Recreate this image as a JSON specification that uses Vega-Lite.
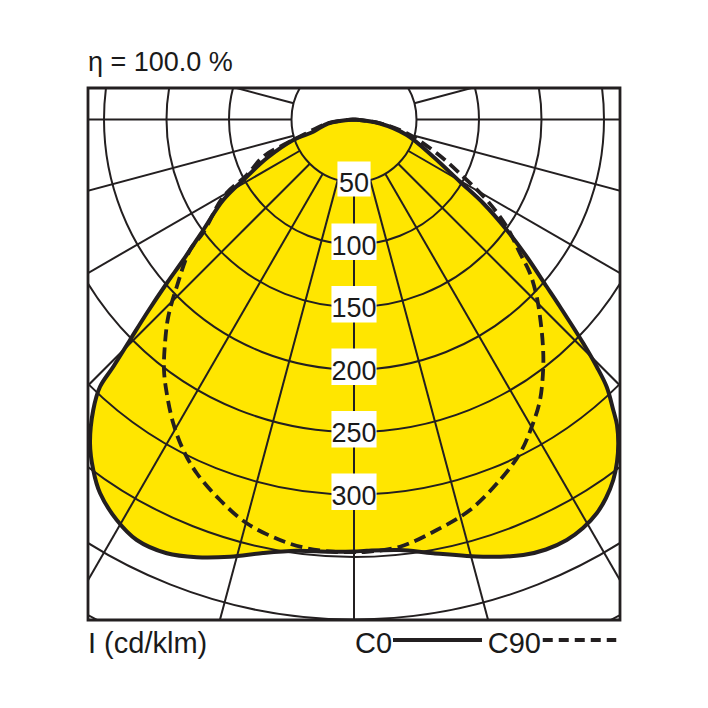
{
  "$schema": "https://vega.github.io/schema/vega-lite/v6.json",
  "width": 532,
  "height": 532,
  "autosize": {"type": "none"},
  "padding": {"left": 88, "top": 88, "right": 88, "bottom": 88},
  "background": "white",
  "view": {"stroke": "#231f20", "strokeWidth": 2.8},
  "datasets": {
    "circles": [
      {"r": 50, "x": 0, "y": 0}, {"r": 100, "x": 0, "y": 0}, {"r": 150, "x": 0, "y": 0},
      {"r": 200, "x": 0, "y": 0}, {"r": 250, "x": 0, "y": 0}, {"r": 300, "x": 0, "y": 0},
      {"r": 350, "x": 0, "y": 0}, {"r": 400, "x": 0, "y": 0}, {"r": 450, "x": 0, "y": 0}
    ],
    "rays": [
      {"a": 0, "x": 0, "y": -50, "x2": 0, "y2": -500},
      {"a": 15, "x": 12.94, "y": -48.3, "x2": 129.41, "y2": -482.96},
      {"a": 30, "x": 25, "y": -43.3, "x2": 250, "y2": -433.01},
      {"a": 45, "x": 35.36, "y": -35.36, "x2": 353.55, "y2": -353.55},
      {"a": 60, "x": 43.3, "y": -25, "x2": 433.01, "y2": -250},
      {"a": 75, "x": 48.3, "y": -12.94, "x2": 482.96, "y2": -129.41},
      {"a": 90, "x": 50, "y": 0, "x2": 500, "y2": 0},
      {"a": 105, "x": 48.3, "y": 12.94, "x2": 482.96, "y2": 129.41},
      {"a": 120, "x": 43.3, "y": 25, "x2": 433.01, "y2": 250},
      {"a": -15, "x": -12.94, "y": -48.3, "x2": -129.41, "y2": -482.96},
      {"a": -30, "x": -25, "y": -43.3, "x2": -250, "y2": -433.01},
      {"a": -45, "x": -35.36, "y": -35.36, "x2": -353.55, "y2": -353.55},
      {"a": -60, "x": -43.3, "y": -25, "x2": -433.01, "y2": -250},
      {"a": -75, "x": -48.3, "y": -12.94, "x2": -482.96, "y2": -129.41},
      {"a": -90, "x": -50, "y": 0, "x2": -500, "y2": 0},
      {"a": -105, "x": -48.3, "y": 12.94, "x2": -482.96, "y2": 129.41},
      {"a": -120, "x": -43.3, "y": 25, "x2": -433.01, "y2": 250}
    ],
    "c0": [
      {"x": 0, "y": 0}, {"x": 20.8, "y": -3.2}, {"x": 42.2, "y": -12.4}, {"x": 63.4, "y": -29.8},
      {"x": 84.8, "y": -49.8}, {"x": 103.4, "y": -67.0}, {"x": 122.2, "y": -88.4}, {"x": 138.2, "y": -109.8},
      {"x": 154.2, "y": -133.8}, {"x": 164.8, "y": -149.8}, {"x": 183.4, "y": -179.0}, {"x": 194.2, "y": -197.8},
      {"x": 202.2, "y": -214.0}, {"x": 207.4, "y": -232.4}, {"x": 210.4, "y": -244.4}, {"x": 211.4, "y": -259.0},
      {"x": 210.4, "y": -274.0}, {"x": 207.4, "y": -288.4}, {"x": 201.6, "y": -302.8}, {"x": 194.2, "y": -315.0},
      {"x": 183.2, "y": -326.8}, {"x": 170.2, "y": -336.4}, {"x": 153.6, "y": -344.0}, {"x": 135.4, "y": -348.4},
      {"x": 103.4, "y": -349.8}, {"x": 63.4, "y": -347.0}, {"x": 36.8, "y": -344.4}, {"x": 10.2, "y": -345.0},
      {"x": 0, "y": -345.6}, {"x": -19.2, "y": -345.8}, {"x": -45.8, "y": -345.0}, {"x": -72.8, "y": -346.8},
      {"x": -99.2, "y": -349.8}, {"x": -125.8, "y": -350.2}, {"x": -149.8, "y": -347.0}, {"x": -173.8, "y": -336.4},
      {"x": -189.8, "y": -320.4}, {"x": -203.2, "y": -298.8}, {"x": -208.6, "y": -280.4}, {"x": -211.2, "y": -259.0},
      {"x": -208.6, "y": -232.4}, {"x": -203.2, "y": -213.8}, {"x": -192.6, "y": -197.8}, {"x": -179.2, "y": -176.4},
      {"x": -165.8, "y": -155.0}, {"x": -149.8, "y": -131.0}, {"x": -136.6, "y": -112.4}, {"x": -120.6, "y": -88.4},
      {"x": -104.6, "y": -64.4}, {"x": -85.8, "y": -45.8}, {"x": -69.8, "y": -31.0}, {"x": -48.6, "y": -16.4},
      {"x": -32.6, "y": -9.8}, {"x": -20.8, "y": -3.2}, {"x": 0, "y": 0}
    ],
    "c90": [
      {"x": 0, "y": 0}, {"x": 20.8, "y": -3.0}, {"x": 42.2, "y": -11.0}, {"x": 66.2, "y": -27.0},
      {"x": 87.4, "y": -45.8}, {"x": 106.2, "y": -64.4}, {"x": 122.2, "y": -85.8}, {"x": 132.8, "y": -107.0},
      {"x": 140.8, "y": -123.0}, {"x": 146.2, "y": -141.8}, {"x": 148.8, "y": -157.8}, {"x": 151.0, "y": -179.0},
      {"x": 151.4, "y": -197.8}, {"x": 148.8, "y": -224.4}, {"x": 142.2, "y": -245.8}, {"x": 132.8, "y": -267.0},
      {"x": 116.8, "y": -288.4}, {"x": 92.8, "y": -312.4}, {"x": 66.2, "y": -328.4}, {"x": 36.8, "y": -341.8},
      {"x": 10.2, "y": -345.8}, {"x": 0, "y": -346.0}, {"x": -16.6, "y": -345.8}, {"x": -37.8, "y": -343.0},
      {"x": -59.2, "y": -336.4}, {"x": -85.8, "y": -323.0}, {"x": -107.2, "y": -304.4}, {"x": -125.8, "y": -283.0},
      {"x": -136.6, "y": -264.4}, {"x": -144.6, "y": -243.0}, {"x": -149.8, "y": -219.0}, {"x": -152.0, "y": -200.4},
      {"x": -151.2, "y": -179.0}, {"x": -148.6, "y": -157.8}, {"x": -141.8, "y": -133.8}, {"x": -131.2, "y": -104.4},
      {"x": -120.8, "y": -90.8}, {"x": -104.6, "y": -61.8}, {"x": -85.8, "y": -44.4}, {"x": -72.0, "y": -29.2},
      {"x": -53.8, "y": -19.0}, {"x": -40.0, "y": -12.0}, {"x": -20.8, "y": -3.0}, {"x": 0, "y": 0}
    ],
    "ivalues": [
      {"t": "50", "x": 0, "y": -50}, {"t": "100", "x": 0, "y": -100}, {"t": "150", "x": 0, "y": -150},
      {"t": "200", "x": 0, "y": -200}, {"t": "250", "x": 0, "y": -250}, {"t": "300", "x": 0, "y": -300}
    ],
    "angles": [
      {"t": "90°", "y": 0}, {"t": "75°", "y": -57.0}, {"t": "60°", "y": -122.9},
      {"t": "45°", "y": -212.8}, {"t": "30°", "y": -368.6}
    ],
    "notes": [
      {"t": "I (cd/klm)", "x": -212.8, "y": -426.4},
      {"t": "C0", "x": 0.8, "y": -426.4},
      {"t": "C90", "x": 107, "y": -426.4}
    ],
    "keys": [
      {"curve": "C0", "x": 31.2, "x2": 102.4, "y": -416.4},
      {"curve": "C90", "x": 151.0, "x2": 209.8, "y": -416.4}
    ]
  },
  "encoding": {
    "x": {"field": "x", "type": "quantitative", "axis": null, "scale": {"domain": [-212.8, 212.8], "nice": false, "zero": false}},
    "y": {"field": "y", "type": "quantitative", "axis": null, "scale": {"domain": [-400.4, 25.2], "nice": false, "zero": false}}
  },
  "layer": [
    {
      "data": {"name": "c0"},
      "mark": {"type": "line", "fill": "#ffe600", "stroke": null, "interpolate": "catmull-rom", "clip": true},
      "encoding": {"order": {"value": null}}
    },
    {
      "data": {"name": "circles"},
      "mark": {"type": "point", "shape": "circle", "filled": false, "stroke": "#231f20", "strokeWidth": 2, "opacity": 1, "clip": true},
      "encoding": {
        "size": {"field": "r", "type": "quantitative", "legend": null, "scale": {"type": "pow", "exponent": 2, "domain": [0, 400], "range": [0, 1000000], "zero": true}}
      }
    },
    {
      "data": {"name": "rays"},
      "mark": {"type": "rule", "stroke": "#231f20", "strokeWidth": 2, "clip": true},
      "encoding": {"x2": {"field": "x2"}, "y2": {"field": "y2"}}
    },
    {
      "data": {"name": "ivalues"},
      "mark": {"type": "point", "filled": true, "fill": "white", "stroke": null, "opacity": 1, "size": 2116},
      "encoding": {
        "shape": {
          "condition": {"test": "length(datum.t) < 3", "value": "M-0.72,-0.89L0.72,-0.89L0.72,0.63L-0.72,0.63Z"},
          "value": "M-0.98,-0.91L0.98,-0.91L0.98,0.67L-0.98,0.67Z"
        }
      }
    },
    {
      "data": {"name": "ivalues"},
      "mark": {"type": "text", "font": "Liberation Sans", "fontSize": 27, "color": "#1a1a1a", "align": "center", "baseline": "alphabetic", "dy": 10},
      "encoding": {"text": {"field": "t"}}
    },
    {
      "data": {"name": "c0"},
      "mark": {"type": "line", "stroke": "#231f20", "strokeWidth": 4, "interpolate": "catmull-rom", "clip": true},
      "encoding": {"order": {"value": null}}
    },
    {
      "data": {"name": "c90"},
      "mark": {"type": "line", "stroke": "#231f20", "strokeWidth": 3.8, "strokeDash": [12, 6], "interpolate": "catmull-rom", "clip": true},
      "encoding": {"order": {"value": null}}
    },
    {
      "data": {"name": "angles"},
      "mark": {"type": "text", "font": "Liberation Sans", "fontSize": 30, "color": "#1a1a1a", "align": "right", "baseline": "alphabetic", "dx": -8, "dy": 16.5},
      "encoding": {"x": {"datum": -212.8, "type": "quantitative"}, "text": {"field": "t"}}
    },
    {
      "data": {"name": "angles"},
      "mark": {"type": "text", "font": "Liberation Sans", "fontSize": 30, "color": "#1a1a1a", "align": "left", "baseline": "alphabetic", "dx": 8, "dy": 16.5},
      "encoding": {"x": {"datum": 212.8, "type": "quantitative"}, "text": {"field": "t"}}
    },
    {
      "data": {"name": "notes"},
      "mark": {"type": "text", "font": "Liberation Sans", "fontSize": 29, "color": "#1a1a1a", "align": "left", "baseline": "alphabetic"},
      "encoding": {"text": {"field": "t"}}
    },
    {
      "data": {"values": [{"t": "η = 100.0 %", "x": -212.8, "y": 38.8}]},
      "mark": {"type": "text", "font": "Liberation Sans", "fontSize": 27, "color": "#1a1a1a", "align": "left", "baseline": "alphabetic"},
      "encoding": {"text": {"field": "t"}}
    },
    {
      "data": {"name": "keys"},
      "mark": {"type": "rule", "stroke": "#231f20", "strokeWidth": 3.8},
      "encoding": {
        "x2": {"field": "x2"},
        "strokeDash": {"field": "curve", "type": "nominal", "legend": null, "scale": {"domain": ["C0", "C90"], "range": [[1, 0], [10, 6]]}}
      }
    }
  ]
}
